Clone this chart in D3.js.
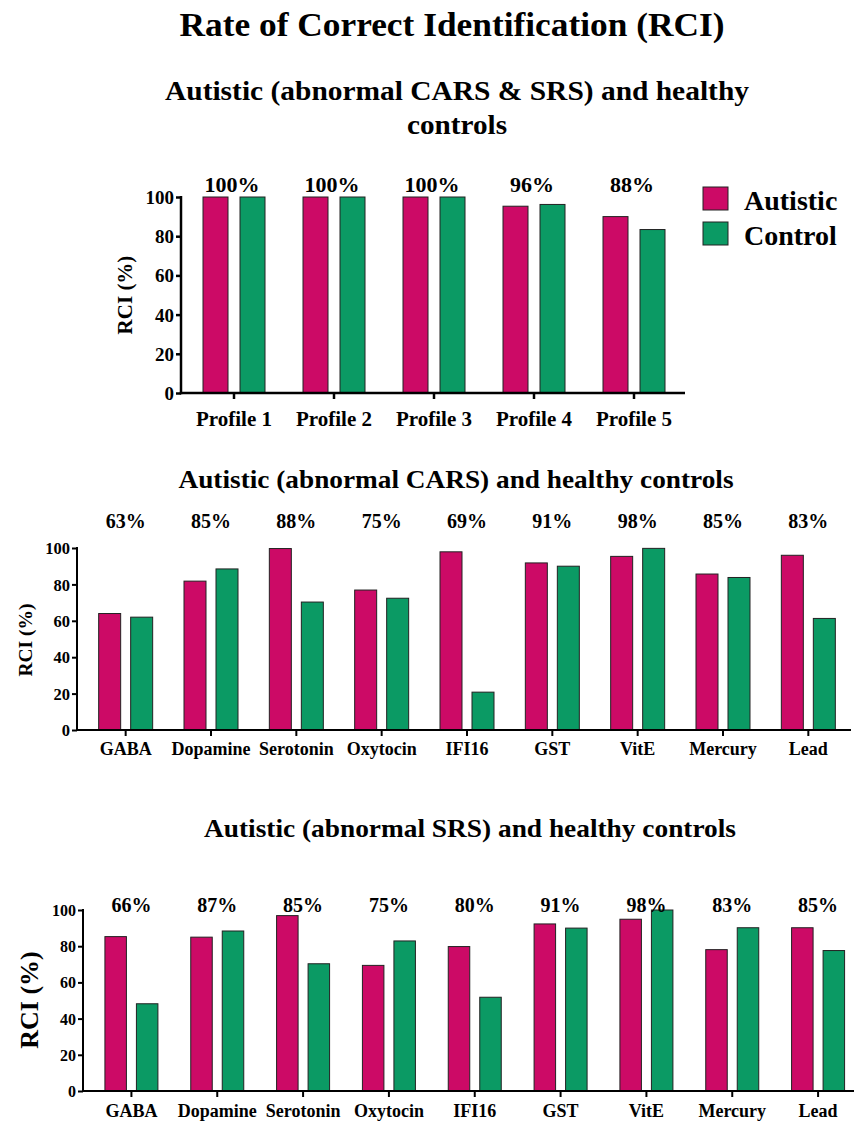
<!DOCTYPE html>
<html>
<head>
<meta charset="utf-8">
<script src="https://cdn.jsdelivr.net/npm/d3@7/dist/d3.min.js"></script>
</head>
<body style="margin:0">
<svg id="chart" width="854" height="1123"></svg>
<script>
// ---- data ----
const seriesNames = ["Autistic", "Control"];

const profileCategories = ["Profile 1", "Profile 2", "Profile 3", "Profile 4", "Profile 5"];
const profileAutistic = [100, 100, 100, 95.3, 90];
const profileControl = [100, 100, 100, 96.2, 83.4];
const profileLabels = ["100%", "100%", "100%", "96%", "88%"];

const markerCategories = ["GABA", "Dopamine", "Serotonin", "Oxytocin", "IFI16", "GST", "VitE", "Mercury", "Lead"];

const carsAutistic = [64, 81.8, 99.7, 76.9, 97.9, 91.8, 95.4, 85.7, 96];
const carsControl = [62, 88.5, 70.3, 72.4, 20.8, 90, 99.8, 83.8, 61.3];
const carsLabels = ["63%", "85%", "88%", "75%", "69%", "91%", "98%", "85%", "83%"];

const srsAutistic = [85.3, 85, 96.9, 69.4, 79.8, 92.3, 94.9, 78.1, 90.2];
const srsControl = [48.2, 88.4, 70.3, 82.9, 51.8, 90, 100, 90.2, 77.6];
const srsLabels = ["66%", "87%", "85%", "75%", "80%", "91%", "98%", "83%", "85%"];

const yTicks = [0, 20, 40, 60, 80, 100];

const colors = { Autistic: "#cc0a66", Control: "#0b9a64" };
const FONT = "'Liberation Serif', monospace";

const svg = d3.select("#chart");

function label(sel) {
  return sel.attr("font-family", FONT).attr("font-weight", "bold").attr("fill", "#000");
}

function heading(x, y, size, width, str) {
  svg.append("text").call(label)
    .attr("x", x).attr("y", y).attr("text-anchor", "middle")
    .attr("font-size", size)
    .attr("textLength", width).attr("lengthAdjust", "spacingAndGlyphs")
    .text(str);
}

// ---- headings ----
heading(452, 36, 34, 545, "Rate of Correct Identification (RCI)");
heading(457, 100, 28, 584, "Autistic (abnormal CARS & SRS) and healthy");
heading(457, 134, 28, 100, "controls");
heading(456, 488, 25, 555, "Autistic (abnormal CARS) and healthy controls");
heading(470, 837, 25, 532, "Autistic (abnormal SRS) and healthy controls");

// ---- one grouped bar panel ----
function drawPanel(p) {
  const g = svg.append("g");
  const x = d3.scaleBand().domain(p.categories).range(p.xRange).paddingInner(0).paddingOuter(0);
  const y = d3.scaleLinear().domain([0, 100]).range([p.yBottom, p.yTop]);
  const half = p.barWidth + p.barGap / 2;
  const xs = d3.scaleBand().domain(seriesNames)
    .range([x.bandwidth() / 2 - half, x.bandwidth() / 2 + half])
    .paddingInner(p.barGap / (p.barWidth + p.barGap)).paddingOuter(0);

  const rows = p.categories.map((c, i) => ({
    cat: c,
    label: p.labels[i],
    values: [
      { key: "Autistic", v: p.autistic[i] },
      { key: "Control", v: p.control[i] }
    ]
  }));

  const groups = g.selectAll("g.cat").data(rows).join("g")
    .attr("class", "cat")
    .attr("transform", d => `translate(${x(d.cat)},0)`);

  groups.selectAll("rect").data(d => d.values).join("rect")
    .attr("x", d => xs(d.key))
    .attr("width", xs.bandwidth())
    .attr("y", d => y(d.v))
    .attr("height", d => y(0) - y(d.v))
    .attr("fill", d => colors[d.key])
    .attr("stroke", "#222")
    .attr("stroke-width", 1);

  // percentage labels above each group
  groups.append("text").call(label)
    .attr("x", x.bandwidth() / 2 + (p.labelShift || 0))
    .attr("y", p.labelY)
    .attr("text-anchor", "middle")
    .attr("font-size", p.labelSize)
    .text(d => d.label);

  // y axis
  const yAxis = g.append("g")
    .attr("transform", `translate(${p.axisX},0)`)
    .call(d3.axisLeft(y).tickValues(yTicks).tickSize(p.tickLen).tickSizeOuter(0).tickPadding(p.yPad));
  yAxis.select(".domain").remove();
  yAxis.selectAll(".tick line").attr("stroke", "#000").attr("stroke-width", p.axisWidth);
  yAxis.selectAll(".tick text").call(label)
    .attr("font-size", p.tickSize).attr("dy", "0.34em");
  g.append("line")
    .attr("x1", p.axisX).attr("x2", p.axisX)
    .attr("y1", p.yTop - 1).attr("y2", p.yBottom + p.axisWidth / 2)
    .attr("stroke", "#000").attr("stroke-width", p.axisWidth);

  // x axis
  const xAxis = g.append("g")
    .attr("transform", `translate(0,${p.yBottom})`)
    .call(d3.axisBottom(x).tickSize(p.tickLen + 1).tickSizeOuter(0));
  xAxis.select(".domain").remove();
  xAxis.selectAll(".tick line").attr("stroke", "#000").attr("stroke-width", p.axisWidth);
  xAxis.selectAll(".tick text").call(label)
    .attr("font-size", p.xSize)
    .attr("y", p.xBaseline - p.yBottom).attr("dy", 0);
  g.append("line")
    .attr("x1", p.axisX - p.axisWidth / 2).attr("x2", p.axisEnd)
    .attr("y1", p.yBottom).attr("y2", p.yBottom)
    .attr("stroke", "#000").attr("stroke-width", p.axisWidth);

  // y title
  g.append("text").call(label)
    .attr("transform", `translate(${p.yTitleX},${p.yTitleY}) rotate(-90)`)
    .attr("text-anchor", "middle")
    .attr("dy", "0.35em")
    .attr("font-size", p.yTitleSize)
    .text("RCI (%)");
}

drawPanel({
  categories: profileCategories, autistic: profileAutistic, control: profileControl, labels: profileLabels,
  xRange: [184, 684], axisX: 181, axisEnd: 685, yTop: 197, yBottom: 393,
  barWidth: 25, barGap: 12, axisWidth: 2.5, tickLen: 5,
  tickSize: 19, yPad: 2, xSize: 21, xBaseline: 426, labelY: 192, labelSize: 22, labelShift: -2,
  yTitleX: 125, yTitleY: 295, yTitleSize: 21
});

drawPanel({
  categories: markerCategories, autistic: carsAutistic, control: carsControl, labels: carsLabels,
  xRange: [83, 851], axisX: 77, axisEnd: 851, yTop: 548, yBottom: 730,
  barWidth: 22, barGap: 10, axisWidth: 2, tickLen: 5,
  tickSize: 16.5, yPad: 2, xSize: 18, xBaseline: 755, labelY: 528, labelSize: 20,
  yTitleX: 25, yTitleY: 640, yTitleSize: 19.5
});

drawPanel({
  categories: markerCategories, autistic: srsAutistic, control: srsControl, labels: srsLabels,
  xRange: [88.5, 861], axisX: 83, axisEnd: 861, yTop: 910, yBottom: 1091,
  barWidth: 21.5, barGap: 10, axisWidth: 2, tickLen: 5,
  tickSize: 16, yPad: 2, xSize: 18, xBaseline: 1117, labelY: 912, labelSize: 20,
  yTitleX: 29, yTitleY: 1000, yTitleSize: 26
});

// ---- legend ----
const legend = svg.append("g").attr("transform", "translate(703,187)");
const legendRows = legend.selectAll("g").data(seriesNames).join("g")
  .attr("transform", (d, i) => `translate(0,${i * 35})`);
legendRows.append("rect")
  .attr("width", 25).attr("height", 23)
  .attr("fill", d => colors[d]).attr("stroke", "#222").attr("stroke-width", 1);
legendRows.append("text").call(label)
  .attr("x", 41).attr("y", 23)
  .attr("font-size", 28)
  .text(d => d);
</script>
</body>
</html>
